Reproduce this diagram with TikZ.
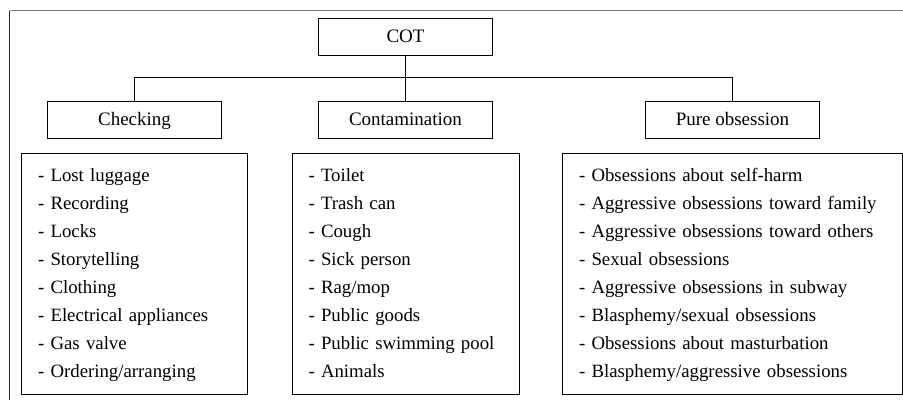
\documentclass[tikz,border=0pt]{standalone}
\usepackage{fontspec}
\setmainfont{Liberation Serif}
\usetikzlibrary{positioning}

\begin{document}
\begin{tikzpicture}[x=1pt,y=1pt,line width=1pt,node distance=14pt,
    head node/.style={rectangle,draw,minimum width=174pt,minimum height=37pt,inner sep=0pt,
      text height=13pt,text depth=1pt,font=\fontsize{19}{23}\selectfont},
    list node/.style={rectangle,draw,inner xsep=16.5pt,inner ysep=0pt,minimum height=241pt,
      align=left,font=\fontsize{18.8}{28}\selectfont,
      execute at begin node=\strut,execute at end node=\strut}]

    \useasboundingbox (0,0) rectangle (903,-400);

    % Frame
    \draw[line width=1.2pt,gray] (9.5,-10.5) -- (903,-10.5);
    \draw[line width=1.2pt,black!85] (9.5,-10.5) -- (9.5,-400);

    % Define nodes
    \node[head node] (cot) at (405.5,-36.5) {COT};
    \node[head node] (cont) [below=45pt of cot] {Contamination};
    \node[head node] (check) [left=96pt of cont] {Checking};
    \node[head node] (pure) [right=152pt of cont] {Pure obsession};

    \node[list node,text width=193pt] (checklist) [below=of check]
      {- Lost luggage\\- Recording\\- Locks\\- Storytelling\\- Clothing\\
       - Electrical appliances\\- Gas valve\\- Ordering/arranging};
    \node[list node,text width=194pt] (contlist) [below=of cont]
      {- Toilet\\- Trash can\\- Cough\\- Sick person\\- Rag/mop\\
       - Public goods\\- Public swimming pool\\- Animals};
    \node[list node,text width=307pt] (purelist) [below=of pure]
      {- Obsessions about self-harm\\- Aggressive obsessions toward family\\
       - Aggressive obsessions toward others\\- Sexual obsessions\\
       - Aggressive obsessions in subway\\- Blasphemy/sexual obsessions\\
       - Obsessions about masturbation\\- Blasphemy/aggressive obsessions};

    % Draw edges
    \draw (cot.south) -- ++(0,-22) coordinate (bar);
    \draw (check.north) |- (bar) -| (pure.north);
    \draw (bar) -- (cont.north);

\end{tikzpicture}
\end{document}
